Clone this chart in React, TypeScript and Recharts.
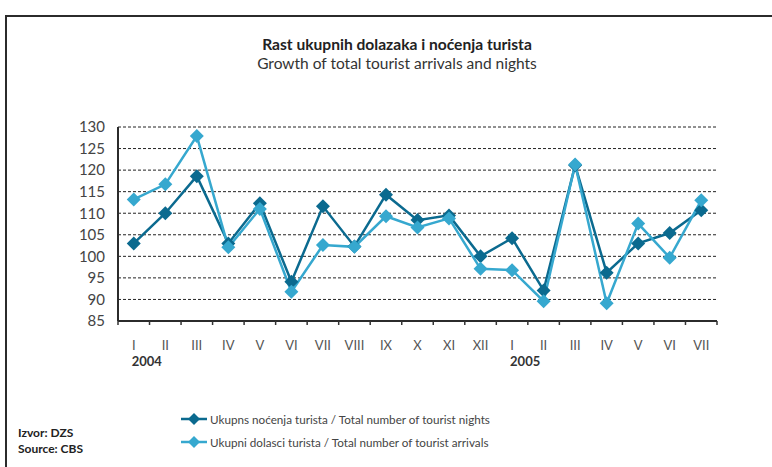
import React from 'react';
import { LineChart, Line, XAxis, YAxis, CartesianGrid, Legend } from 'recharts';

const months = ['I', 'II', 'III', 'IV', 'V', 'VI', 'VII', 'VIII', 'IX', 'X', 'XI', 'XII', 'I', 'II', 'III', 'IV', 'V', 'VI', 'VII'];
const years = ['2004', '', '', '', '', '', '', '', '', '', '', '', '2005', '', '', '', '', '', ''];
const nights = [103, 110, 118.6, 103, 112.3, 94.1, 111.6, 102.3, 114.3, 108.4, 109.5, 100, 104.2, 92.1, 121.1, 96.2, 103, 105.4, 110.7];
const arrivals = [113.2, 116.7, 127.9, 102.1, 111, 91.8, 102.6, 102.2, 109.3, 106.7, 108.8, 97.1, 96.8, 89.6, 121.3, 89.1, 107.6, 99.7, 113];
const yTicks = [85, 90, 95, 100, 105, 110, 115, 120, 125, 130];

const nightsName = 'Ukupns noćenja turista / Total number of tourist nights';
const arrivalsName = 'Ukupni dolasci turista / Total number of tourist arrivals';
const legendOrder = [nightsName, arrivalsName];

const data = months.map((m, i) => ({ id: i, nights: nights[i], arrivals: arrivals[i] }));

const W = 772;
const H = 467;
const PLOT_LEFT = 118;
const PLOT_RIGHT = 717;
const PLOT_TOP = 127;
const PLOT_BOTTOM = 321;
const Y_AXIS_W = 60;
const X_AXIS_H = 40;
const BAND = (PLOT_RIGHT - PLOT_LEFT) / months.length;

const DARK = '#0b6a8f';
const LIGHT = '#36a8cf';
const FONT = 'Lato, "Open Sans", sans-serif';

const makeDiamond = (color: string) => (props: any) => {
  const { cx, cy, index } = props;
  if (cx == null || cy == null) return <g key={index} />;
  const r = 7;
  return (
    <polygon
      key={index}
      points={`${cx},${cy - r} ${cx + r},${cy} ${cx},${cy + r} ${cx - r},${cy}`}
      fill={color}
      stroke="none"
    />
  );
};

const XTick = (props: any) => {
  const { x, y, payload } = props;
  const i = payload.value as number;
  const left = x - BAND / 2;
  const right = x + BAND / 2;
  return (
    <g>
      <line x1={left} y1={y} x2={left} y2={y + 4} stroke="#333" strokeWidth={1.5} />
      {i === months.length - 1 && (
        <line x1={right} y1={y} x2={right} y2={y + 4} stroke="#333" strokeWidth={1.5} />
      )}
      <text x={x} y={y + 29} textAnchor="middle" fontSize={13} fill="#555" fontFamily={FONT}>
        {months[i]}
      </text>
      {years[i] && (
        <text x={x - 2} y={y + 45} textAnchor="start" fontSize={13} fontWeight="bold" fill="#333" fontFamily={FONT}>
          {years[i]}
        </text>
      )}
    </g>
  );
};

const LegendContent = (props: any) => {
  const items = [...(props.payload || [])].sort(
    (a: any, b: any) => legendOrder.indexOf(a.value) - legendOrder.indexOf(b.value)
  );
  return (
    <div style={{ fontFamily: FONT, fontSize: 11.7, color: '#444' }}>
      {items.map((p: any, k: number) => (
        <div key={k} style={{ display: 'flex', alignItems: 'center', height: 23 }}>
          <svg width={27} height={14} style={{ marginRight: 2 }}>
            <line x1={0} y1={7} x2={26} y2={7} stroke={p.color} strokeWidth={2.5} />
            <polygon points="13,1 19,7 13,13 7,7" fill={p.color} />
          </svg>
          <span>{p.value}</span>
        </div>
      ))}
    </div>
  );
};

export default function App() {
  return (
    <div style={{ position: 'absolute', left: 0, top: 0, width: W, height: H, background: '#fff', overflow: 'hidden' }}>
      <div
        style={{
          position: 'absolute',
          left: 5,
          top: 15,
          width: W,
          height: H,
          borderTop: '2px solid #2b2b2b',
          borderLeft: '2px solid #2b2b2b',
        }}
      />
      <div
        style={{
          position: 'absolute',
          left: 0,
          width: 794,
          top: 35,
          textAlign: 'center',
          fontFamily: FONT,
          fontSize: 15.6,
          color: '#222',
          lineHeight: '19px',
        }}
      >
        <div style={{ fontWeight: 'bold' }}>Rast ukupnih dolazaka i noćenja turista</div>
        <div style={{ fontSize: 15.5, color: '#333' }}>Growth of total tourist arrivals and nights</div>
      </div>
      <div
        style={{
          position: 'absolute',
          left: 18,
          top: 425,
          fontFamily: FONT,
          fontSize: 12,
          fontWeight: 'bold',
          color: '#222',
          lineHeight: '16px',
        }}
      >
        <div>Izvor: DZS</div>
        <div>Source: CBS</div>
      </div>
      <div style={{ position: 'absolute', left: 0, top: 0 }}>
        <LineChart
          width={W}
          height={H}
          data={data}
          margin={{
            top: PLOT_TOP,
            left: PLOT_LEFT - Y_AXIS_W,
            right: W - PLOT_RIGHT,
            bottom: H - PLOT_BOTTOM - X_AXIS_H,
          }}
        >
          <CartesianGrid vertical={false} stroke="#222" strokeDasharray="3 2" strokeWidth={1} />
          <XAxis
            dataKey="id"
            type="category"
            scale="band"
            height={X_AXIS_H}
            axisLine={{ stroke: '#2b2b2b', strokeWidth: 2 }}
            tickLine={false}
            tickSize={0}
            tickMargin={0}
            interval={0}
            tick={<XTick />}
          />
          <YAxis
            width={Y_AXIS_W}
            domain={[85, 130]}
            ticks={yTicks}
            interval={0}
            axisLine={{ stroke: '#2b2b2b', strokeWidth: 2 }}
            tickLine={false}
            tickSize={0}
            tickMargin={13}
            tick={{ fontSize: 15, fill: '#444', fontFamily: FONT }}
          />
          <Legend
            layout="vertical"
            align="center"
            verticalAlign="middle"
            content={<LegendContent />}
            wrapperStyle={{ position: 'absolute', left: 181, top: 407, width: 420 }}
          />
          <Line
            dataKey="nights"
            name={nightsName}
            stroke={DARK}
            strokeWidth={2.5}
            dot={makeDiamond(DARK)}
            activeDot={false}
            isAnimationActive={false}
          />
          <Line
            dataKey="arrivals"
            name={arrivalsName}
            stroke={LIGHT}
            strokeWidth={2.5}
            dot={makeDiamond(LIGHT)}
            activeDot={false}
            isAnimationActive={false}
          />
        </LineChart>
      </div>
    </div>
  );
}
